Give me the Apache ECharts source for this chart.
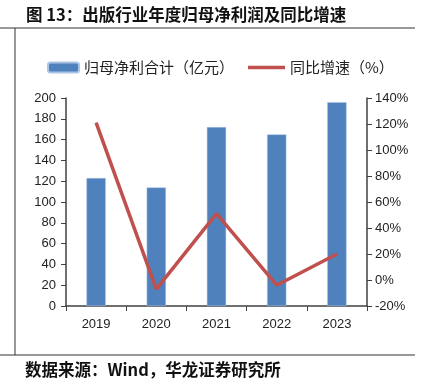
<!DOCTYPE html>
<html><head><meta charset="utf-8">
<script src="https://cdn.jsdelivr.net/npm/echarts@6/dist/echarts.min.js"></script>
<style>html,body{margin:0;padding:0;background:#fff}#c{width:430px;height:388px}</style>
</head><body><div id="c"></div>
<script>
var categories = ['2019','2020','2021','2022','2023'];
var profit = [123, 114, 172, 165, 196];
var growth = [121, -7, 51, -4, 20];
var barName = '归母净利合计（亿元）';
var lineName = '同比增速（%）';
var titleText = '图 13：出版行业年度归母净利润及同比增速';
var sourceText = '数据来源：Wind，华龙证券研究所';

var chart = echarts.init(document.getElementById('c'), null, {renderer:'canvas'});
var axisColor = '#404040';
var labelFont = {color:'#222', fontSize:13, fontFamily:'Liberation Sans, Arial, sans-serif'};
chart.setOption({
  animation:false,
  backgroundColor:'#fff',
  graphic:[
    {type:'text', left:26, top:6, style:{text:titleText, fontSize:16.5, fontWeight:'bold', fill:'#111', fontFamily:'Noto Sans CJK SC'}},
    {type:'line', shape:{x1:0,y1:28,x2:415,y2:28}, style:{stroke:'#333', lineWidth:1}},
    {type:'line', shape:{x1:15,y1:28,x2:15,y2:355}, style:{stroke:'#333', lineWidth:1}},
    {type:'line', shape:{x1:0,y1:355,x2:415,y2:355}, style:{stroke:'#333', lineWidth:1}},
    {type:'text', left:25, top:361, style:{text:sourceText, fontSize:16.5, fontWeight:'bold', fill:'#111', fontFamily:'Noto Sans CJK SC'}}
  ],
  legend:[
    {data:[barName], left:42, top:55, itemWidth:31, itemHeight:10, itemGap:8,
     textStyle:{fontSize:15, color:'#222', fontFamily:'Noto Sans CJK SC'}},
    {data:[{name:lineName, icon:'rect', itemStyle:{color:'#C0504D'}}], left:243, top:55, itemWidth:37, itemHeight:3.5,
     textStyle:{fontSize:15, color:'#222', fontFamily:'Noto Sans CJK SC'}}
  ],
  grid:{left:66, right:63, top:98, bottom:82, containLabel:false},
  xAxis:{type:'category', data:categories,
    axisLine:{lineStyle:{color:axisColor, width:1.5}},
    axisTick:{show:true, inside:false, length:5, lineStyle:{color:axisColor}},
    axisLabel:Object.assign({margin:12}, labelFont)
  },
  yAxis:[
    {type:'value', min:0, max:200, interval:20, position:'left',
     axisLine:{show:true, lineStyle:{color:axisColor, width:1.5}},
     axisTick:{show:true, length:5, lineStyle:{color:axisColor}},
     splitLine:{show:false},
     axisLabel:Object.assign({margin:10}, labelFont)},
    {type:'value', min:-20, max:140, interval:20, position:'right',
     axisLine:{show:true, lineStyle:{color:axisColor, width:1.5}},
     axisTick:{show:true, length:5, lineStyle:{color:axisColor}},
     splitLine:{show:false},
     axisLabel:Object.assign({margin:8, formatter:'{value}%'}, labelFont)}
  ],
  series:[
    {name:barName, type:'bar', data:profit, barWidth:'32%', yAxisIndex:0,
     itemStyle:{color:'#4F81BD', borderColor:'#a9c4e6', borderWidth:0.5}},
    {name:lineName, type:'line', data:growth, yAxisIndex:1, symbol:'none',
     lineStyle:{color:'#C0504D', width:3.5}, itemStyle:{color:'#C0504D'}}
  ]
});
</script></body></html>
